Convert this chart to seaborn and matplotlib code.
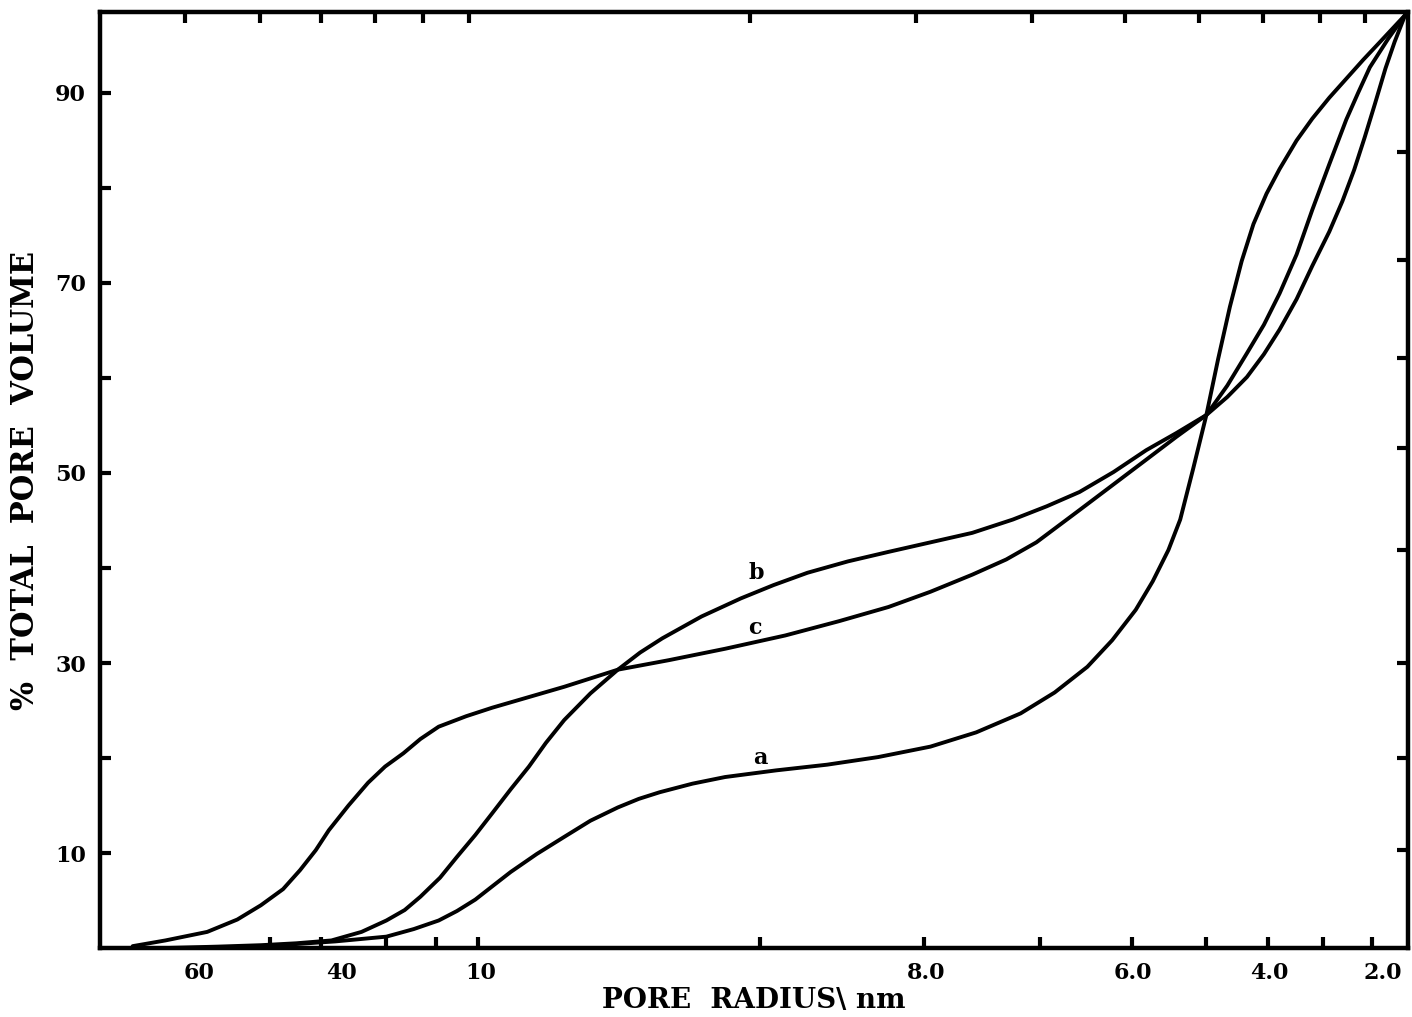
import matplotlib
matplotlib.use("Agg")
import matplotlib.pyplot as plt
import pandas as pd
import seaborn as sns

# Position along the (non-linear) pore-radius scale: 0 = left edge, 100 = right edge
pos_a = [10.0, 13.7, 18.0, 21.9, 24.0, 25.9, 27.3, 28.7, 30.0, 31.4, 33.4, 35.5,
         37.5, 39.6, 41.2, 42.8, 45.3, 47.8, 51.7, 55.6, 59.5, 63.5, 67.0, 70.4,
         73.0, 75.5, 77.4, 79.2, 80.5, 81.7, 82.6, 83.6, 84.6, 85.5, 86.4, 87.3,
         88.2, 89.2, 90.2, 91.5, 92.7, 94.0, 95.3, 96.6, 97.9, 99.8]
pct_a = [0.0, 0.3, 0.7, 1.2, 2.0, 2.9, 3.9, 5.1, 6.5, 8.0, 9.9, 11.7,
         13.4, 14.8, 15.7, 16.4, 17.3, 18.0, 18.7, 19.3, 20.1, 21.2, 22.7, 24.7,
         26.9, 29.6, 32.4, 35.6, 38.6, 41.9, 45.1, 50.5, 56.1, 62.0, 67.5, 72.3,
         76.2, 79.4, 82.0, 85.0, 87.3, 89.5, 91.5, 93.5, 95.4, 98.2]

pos_b = [5.0, 9.0, 12.3, 15.0, 17.7, 20.0, 21.9, 23.3, 24.5, 26.0, 27.3, 28.7,
         30.0, 31.4, 32.8, 34.1, 35.5, 37.5, 39.6, 41.3, 43.0, 46.0, 49.0, 51.5,
         54.1, 57.2, 60.3, 63.5, 66.7, 69.8, 72.4, 74.9, 77.5, 80.0, 82.3, 84.6,
         86.2, 87.7, 89.0, 90.2, 91.5, 92.7, 94.0, 95.0, 95.9, 96.7, 97.5, 98.3, 99.0, 99.8]
pct_b = [0.0, 0.15, 0.3, 0.5, 0.8, 1.7, 2.9, 4.0, 5.4, 7.4, 9.6, 11.9,
         14.2, 16.7, 19.1, 21.6, 24.0, 26.8, 29.3, 31.1, 32.6, 34.9, 36.8, 38.2,
         39.5, 40.7, 41.7, 42.7, 43.7, 45.1, 46.5, 48.0, 50.1, 52.4, 54.2, 56.1,
         58.0, 60.1, 62.5, 65.1, 68.3, 71.8, 75.4, 78.6, 81.9, 85.3, 88.9, 92.6, 95.4, 98.2]

pos_c = [2.5, 5.0, 8.2, 10.5, 12.3, 14.0, 15.3, 16.5, 17.5, 19.0, 20.5, 21.8,
         23.2, 24.5, 25.9, 28.0, 30.0, 33.0, 35.5, 39.6, 43.5, 47.8, 52.4, 56.5,
         60.3, 63.5, 66.7, 69.3, 71.6, 74.9, 77.5, 80.0, 82.3, 84.6, 86.2, 87.7,
         89.0, 90.2, 91.5, 92.7, 94.0, 95.3, 96.2, 97.1, 98.5, 99.8]
pct_c = [0.2, 0.8, 1.7, 3.0, 4.5, 6.2, 8.2, 10.3, 12.4, 15.0, 17.4, 19.1,
         20.5, 22.0, 23.3, 24.4, 25.3, 26.5, 27.5, 29.3, 30.3, 31.5, 32.9, 34.4,
         35.9, 37.5, 39.3, 40.9, 42.7, 46.1, 48.8, 51.4, 53.8, 56.1, 59.2, 62.6,
         65.6, 68.9, 73.0, 77.7, 82.5, 87.2, 90.0, 92.7, 95.7, 98.2]

# Curve labels: (letter, position, percent)
curve_labels = [("a", 50.5, 20.0), ("b", 50.2, 39.5), ("c", 50.1, 33.7)]

# Pore-radius tick labels and where they sit on the scale
radius_labels = ["60", "40", "10", "8.0", "6.0", "4.0", "2.0"]
radius_label_pos = [7.6, 18.5, 29.1, 63.2, 79.0, 89.4, 98.1]
bottom_marks = [7.6, 13.0, 16.9, 18.5, 21.9, 25.7, 28.9, 50.5, 63.0, 71.9,
                78.9, 84.6, 89.3, 93.5, 97.3]
top_marks = [6.5, 12.2, 16.9, 21.0, 24.7, 28.2, 49.7, 62.4, 71.3, 78.4,
             84.0, 88.9, 93.3, 96.7]

volume_labels = [10, 30, 50, 70, 90]
volume_minor = [20, 40, 60, 80]
right_marks = [10.3, 20.0, 30.0, 41.9, 52.6, 62.1, 72.4, 83.8]

df = pd.concat([
    pd.DataFrame({"pos": pos_a, "pct": pct_a, "curve": "a"}),
    pd.DataFrame({"pos": pos_b, "pct": pct_b, "curve": "b"}),
    pd.DataFrame({"pos": pos_c, "pct": pct_c, "curve": "c"}),
])

sns.set_style("white")
plt.rcParams["font.family"] = ["DejaVu Serif"]
plt.rcParams["font.weight"] = "bold"
for key in ["text.color", "axes.labelcolor", "xtick.color", "ytick.color",
            "xtick.labelcolor", "ytick.labelcolor"]:
    plt.rcParams[key] = "black"

fig = plt.figure(figsize=(14.12, 10.17), dpi=100)
ax = fig.add_axes([0.0708, 0.0678, 0.9262, 0.9202])

sns.lineplot(data=df, x="pos", y="pct", units="curve", estimator=None,
             sort=False, color="black", linewidth=2.8, ax=ax, legend=False)
for line in ax.get_lines():
    line.set_solid_joinstyle("round")
    line.set_solid_capstyle("round")

for letter, xp, yp in curve_labels:
    ax.text(xp, yp, letter, ha="center", va="center", fontsize=16,
            fontweight="bold", color="black")

ax.set_xlim(0, 100)
ax.set_ylim(0, 98.5)

for s in ax.spines.values():
    s.set_visible(True)
    s.set_linewidth(3.2)
    s.set_color("black")

# bottom axis: labels at their own spots, marks as minor ticks
ax.set_xticks(radius_label_pos)
ax.set_xticklabels(radius_labels, fontsize=16, fontweight="bold")
ax.set_xticks(bottom_marks, minor=True)
ax.tick_params(axis="x", which="major", length=0, pad=10)
ax.tick_params(axis="x", which="minor", direction="in", length=8, width=3,
               color="black", bottom=True)

ax.set_yticks(volume_labels)
ax.set_yticklabels([str(v) for v in volume_labels], fontsize=16, fontweight="bold")
ax.set_yticks(volume_minor, minor=True)
ax.tick_params(axis="y", which="both", direction="in", length=8, width=3,
               color="black", left=True, pad=10)

top = ax.secondary_xaxis("top")
top.set_xticks(top_marks)
top.set_xticklabels([])
top.tick_params(direction="in", length=8, width=3, color="black")
top.spines["top"].set_visible(False)

right = ax.secondary_yaxis("right")
right.set_yticks(right_marks)
right.set_yticklabels([])
right.tick_params(direction="in", length=8, width=3, color="black")
right.spines["right"].set_visible(False)

ax.set_xlabel("PORE  RADIUS\\ nm", fontsize=20, fontweight="bold", labelpad=2)
ax.set_ylabel("%  TOTAL  PORE  VOLUME", fontsize=22, fontweight="bold", labelpad=10)

fig.savefig("out.png", dpi=100, facecolor="white")
